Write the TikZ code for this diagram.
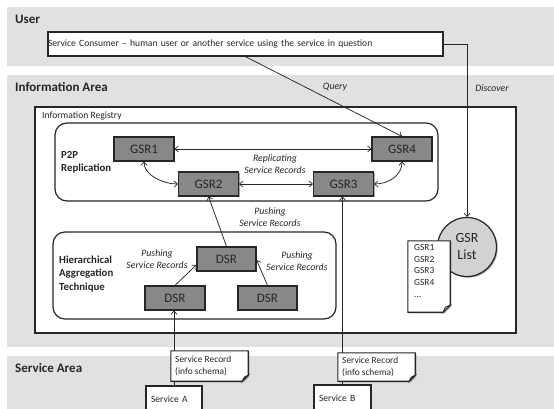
\documentclass[tikz,border=0pt]{standalone}
\usepackage{fontspec}
\setmainfont{Carlito}
\usetikzlibrary{arrows.meta,shadows,calc}

\definecolor{band}{HTML}{E1E1E1}
\definecolor{gsrfill}{HTML}{888888}
\definecolor{listfill}{HTML}{D2D2D2}
\definecolor{ink}{HTML}{262626}

\tikzset{
  tip/.tip={Straight Barb[length=3.2pt,width=6pt,line width=0.7pt]},
  areatitle/.style={anchor=west, inner sep=0, text=ink,
    font=\fontsize{13}{15}\selectfont\bfseries},
  shade/.style={drop shadow={shadow xshift=1.2pt, shadow yshift=-1.2pt,
    opacity=.35, fill=black}},
  plainbox/.style={draw=ink, line width=1.3pt, fill=white, shade},
  gsrbox/.style={draw=ink, line width=1.2pt, fill=gsrfill, shade,
    minimum width=60pt, minimum height=24pt, inner sep=0, text=ink,
    font=\fontsize{13}{15}\selectfont},
  group/.style={draw=ink, line width=1.2pt, rounded corners=12pt},
  flow/.style={draw=ink, line width=0.75pt, -tip},
  twoway/.style={draw=ink, line width=0.75pt, tip-tip},
  note/.style={font=\fontsize{9.8}{12}\selectfont\itshape, align=center,
    inner sep=0, text=ink},
  grouplabel/.style={font=\fontsize{10.8}{13.2}\selectfont\bfseries, align=left,
    anchor=west, inner sep=0, text=ink},
  small/.style={font=\fontsize{9.6}{11}\selectfont, inner sep=0, text=ink},
  paper/.style={draw=ink, line width=1.1pt, fill=white, shade},
  fold/.style={draw=ink, line width=0.8pt, fill=listfill},
}

\begin{document}
\begin{tikzpicture}[x=1pt, y=-1pt]
\useasboundingbox (0,0) rectangle (554,409);
\clip (0,0) rectangle (554,409);

% area bands
\fill[band] (7,7) rectangle (554,66);
\fill[band] (7,75) rectangle (554,347);
\fill[band] (7,356) rectangle (554,420);

\node[areatitle] (userT) at (15,19) {User};
\node[areatitle] (infoT) at (15,87) {Information Area};
\node[areatitle] (servT) at (15,368) {Service Area};

% service consumer
\node[plainbox, minimum height=24pt, text width=395pt, inner xsep=12pt,
      inner ysep=0, align=left, small] (consumer) at (245.5,44)
  {Service Consumer -- human user or another service using the service in question};

% information registry
\node[plainbox, minimum width=481pt, minimum height=226pt] (registry) at (275.5,220) {};
\node[small, anchor=west] (registryT) at (42,116) {Information Registry};

% P2P replication group
\node[group, minimum width=383pt, minimum height=78pt] (p2p) at (246.5,162) {};
\node[grouplabel] (p2pT) at (61,162.5) {P2P\\Replication};
\node[gsrbox] (gsr1) at (144,149) {GSR1};
\node[gsrbox] (gsr4) at (402,149) {GSR4};
\node[gsrbox] (gsr2) at (208.5,184) {GSR2};
\node[gsrbox] (gsr3) at (343.5,184) {GSR3};
\node[note] (replT) at (275,164.5) {Replicating\\Service Records};

\draw[twoway] (gsr1.east) -- (gsr4.west);
\draw[twoway] (gsr2.east) -- (gsr3.west);
\draw[twoway] (gsr1.south) .. controls +(0,14) and +(-14,0) .. (gsr2.west);
\draw[twoway] (gsr4.south) .. controls +(0,14) and +(14,0) .. (gsr3.east);

% hierarchical aggregation group
\node[group, minimum width=283pt, minimum height=87pt] (hier) at (194.5,275.5) {};
\node[grouplabel] (hierT) at (59,274) {Hierarchical\\Aggregation\\Technique};
\node[gsrbox, minimum width=59pt] (dsrT) at (226.5,259) {DSR};
\node[gsrbox] (dsrL) at (175,298) {DSR};
\node[gsrbox, minimum width=59pt] (dsrR) at (267.5,298) {DSR};

\draw[flow] (dsrL.north) -- (dsrT.191);
\draw[flow] (dsrR.north) -- (dsrT.358);
\draw[flow] (dsrT.north) -- (gsr2.south);

\node[note] (pushT) at (270,217) {Pushing\\Service Records};
\node[note] (pushL) at (157,259.5) {Pushing\\Service Records};
\node[note] (pushR) at (297,261.5) {Pushing\\Service Records};

% GSR list and its document
\node[circle, draw=ink, line width=1.2pt, fill=listfill, shade, minimum size=59pt,
      inner sep=0, align=center, text=ink, font=\fontsize{14}{17}\selectfont]
  (gsrlist) at (467,247) {GSR\\List};
\node[minimum width=42pt, minimum height=71pt, inner sep=0] (doc) at (429,276.5) {};
\path[paper] (doc.north west) -- (doc.north east) -- ([yshift=7pt]doc.south east)
  -- ([xshift=-7pt]doc.south east) -- (doc.south west) -- cycle;
\path[fold] ([yshift=7pt]doc.south east) -- ([xshift=-5pt,yshift=5pt]doc.south east)
  -- ([xshift=-7pt]doc.south east) -- cycle;
\node[small, font=\fontsize{9.4}{11.7}\selectfont, align=left, anchor=north west]
  (docT) at (414,244) {GSR1\\GSR2\\GSR3\\GSR4\\...};

% user requests
\draw[flow] (consumer.south) -- (gsr4.north);
\draw[flow] (consumer.east) -| (gsrlist.north);
\node[note] (queryT) at (335,87.5) {Query};
\node[note] (discT) at (492,88.5) {Discover};

% services and their records
\node[draw=ink, line width=1.2pt, fill=white, minimum width=56pt, minimum height=26pt,
      small, font=\fontsize{9.6}{11}\selectfont, text width=46pt, inner xsep=5pt,
      align=left] (servA) at (174,399) {Service A};
\node[draw=ink, line width=1.2pt, fill=white, minimum width=57pt, minimum height=26pt,
      small, font=\fontsize{9.6}{11}\selectfont, text width=47pt, inner xsep=5pt,
      align=left] (servB) at (342.5,398) {Service B};

\draw[flow] (servA.north) -- (servA.north |- dsrL.south);
\draw[flow] (servB.north) -- (servB.north |- gsr3.south);

\node[minimum width=77pt, minimum height=30pt, inner sep=0] (recA) at (209.5,366) {};
\path[paper] (recA.north west) -- (recA.north east) -- ([yshift=6pt]recA.south east)
  -- ([xshift=-6pt]recA.south east) -- (recA.south west) -- cycle;
\path[fold] ([yshift=6pt]recA.south east) -- ([xshift=-4pt,yshift=4pt]recA.south east)
  -- ([xshift=-6pt]recA.south east) -- cycle;
\node[small, font=\fontsize{9.4}{11.8}\selectfont, align=left, anchor=west]
  (recAT) at (175,366) {Service Record\\(info schema)};

\node[minimum width=77pt, minimum height=28pt, inner sep=0] (recB) at (376.5,367) {};
\path[paper] (recB.north west) -- (recB.north east) -- ([yshift=6pt]recB.south east)
  -- ([xshift=-6pt]recB.south east) -- (recB.south west) -- cycle;
\path[fold] ([yshift=6pt]recB.south east) -- ([xshift=-4pt,yshift=4pt]recB.south east)
  -- ([xshift=-6pt]recB.south east) -- cycle;
\node[small, font=\fontsize{9.4}{11.8}\selectfont, align=left, anchor=west]
  (recBT) at (342,367) {Service Record\\(info schema)};
\end{tikzpicture}
\end{document}
